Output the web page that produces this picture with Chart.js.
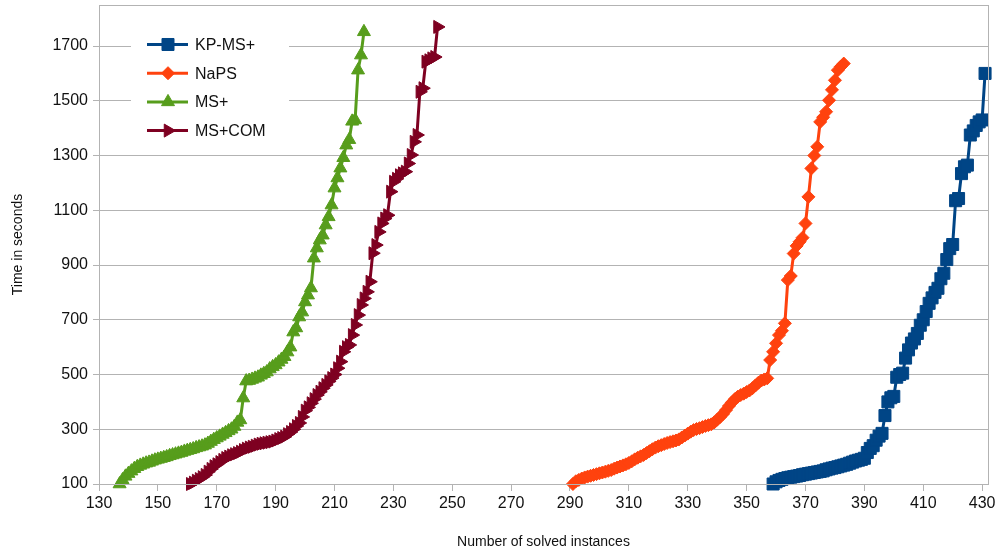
<!DOCTYPE html>
<html>
<head>
<meta charset="utf-8">
<script src="https://cdn.jsdelivr.net/npm/chart.js@4.4.1/dist/chart.umd.min.js"></script>
<style>
  body { margin: 0; background: #fff; }
  #wrap { width: 1001px; height: 557px; }
</style>
</head>
<body>
<div id="wrap"><canvas id="myChart" width="1001" height="557"></canvas></div>
<script>
// solved instances (x) and time in seconds (y)
const kpX = [359,360,361,362,363,364,365,366,367,368,369,370,371,372,373,374,375,376,377,378,
  379,380,381,382,383,384,385,386,387,388,389,390,391,392,393,394,395,396,397,398,
  399,400,401,402,403,404,405,406,407,408,409,410,411,412,413,414,415,416,417,418,
  419,420,421,422,423,424,425,426,427,428,429,430,431];
const kpY = [100,108,113,117,120,123,125,127,129,131,134,136,138,140,142,144,146,148,152,155,
  158,160,163,166,169,172,176,180,184,187,190,194,215,230,240,260,275,285,350,400,
  415,420,490,500,505,560,590,615,630,650,680,700,730,760,780,800,815,850,870,920,
  960,975,1135,1143,1234,1259,1265,1375,1390,1410,1423,1430,1600];

const napsX = [291,292,293,294,295,296,297,298,299,300,301,302,303,304,305,306,307,308,309,310,
  311,312,313,314,315,316,317,318,319,320,321,322,323,324,325,326,327,328,329,330,
  331,332,333,334,335,336,337,338,339,340,341,342,343,344,345,346,347,348,349,350,
  351,352,353,354,355,356,357,358,359,360,361,362,363,364,365,366,367,368,369,370,
  371,372,373,374,375,376,377,378,379,380,381,382,383];
const napsY = [100,110,115,120,124,127,130,133,136,139,142,145,148,151,156,160,164,168,172,177,
  183,190,196,201,206,213,220,227,233,238,242,246,250,253,256,259,263,270,277,284,
  291,297,301,304,308,312,315,318,325,335,345,356,370,385,398,410,419,425,430,436,
  442,450,460,470,478,482,486,553,583,614,644,660,687,845,860,942,970,985,1000,1052,
  1149,1253,1300,1332,1423,1440,1460,1502,1540,1575,1612,1625,1636];

const msX = [137,138,139,140,141,142,143,144,145,146,147,148,149,150,151,152,153,154,155,156,
  157,158,159,160,161,162,163,164,165,166,167,168,169,170,171,172,173,174,175,176,
  177,178,179,180,181,182,183,184,185,186,187,188,189,190,191,192,193,194,195,196,
  197,198,199,200,201,202,203,204,205,206,207,208,209,210,211,212,213,214,215,216,
  217,218,219,220];
const msY = [100,115,128,138,147,156,163,168,172,176,179,183,187,190,193,196,199,203,206,209,
  212,215,219,222,225,228,232,235,238,242,248,255,262,268,274,281,287,294,300,310,
  325,334,414,476,478,482,486,490,497,503,509,520,528,535,545,555,565,582,600,655,
  670,710,728,765,790,816,925,962,991,1009,1046,1076,1119,1181,1218,1254,1292,1338,1358,1425,
  1430,1612,1667,1752];

const comX = [161,162,163,164,165,166,167,168,169,170,171,172,173,174,175,176,177,178,179,180,
  181,182,183,184,185,186,187,188,189,190,191,192,193,194,195,196,197,198,199,200,
  201,202,203,204,205,206,207,208,209,210,211,212,213,214,215,216,217,218,219,220,
  221,222,223,224,225,226,227,228,229,230,231,232,233,234,235,236,237,238,239,240,
  241,242,243,244,245];
const comY = [100,105,112,118,125,133,145,155,165,172,180,188,195,200,205,209,213,218,224,229,
  233,236,240,244,247,249,251,253,255,259,264,268,273,282,290,300,312,323,345,368,
  380,395,410,425,437,450,462,475,487,500,523,547,583,600,608,644,681,717,754,778,
  802,839,943,973,1021,1052,1070,1082,1168,1204,1215,1228,1235,1241,1271,1302,1350,1375,1533,1546,
  1643,1648,1655,1660,1770];

const seriesNames = ['KP-MS+', 'NaPS', 'MS+', 'MS+COM'];
const xTicks = [130,150,170,190,210,230,250,270,290,310,330,350,370,390,410,430];
const yTicks = [100,300,500,700,900,1100,1300,1500,1700];

function pts(xs, ys) {
    return xs.map(function(x, i) { return {x: x, y: ys[i]}; });
}

function makeSet(name, xs, ys, color, style, radius, rot) {
    return {
        label: name,
        data: pts(xs, ys),
        showLine: true,
        borderColor: color,
        backgroundColor: color,
        borderWidth: 3,
        tension: 0,
        pointStyle: style,
        pointRadius: radius,
        pointHoverRadius: radius,
        pointRotation: rot,
        pointBorderWidth: 1,
        clip: false
    };
}

// legend drawn inside the plot: white box, line with marker, name
const boxLegend = {
    id: 'boxLegend',
    afterDraw: function(chart) {
        const ctx = chart.ctx;
        ctx.save();
        ctx.fillStyle = '#ffffff';
        ctx.fillRect(131, 28, 158, 118);
        chart.data.datasets.forEach(function(ds, i) {
            const y = 44.5 + i * 28.7;
            ctx.strokeStyle = ds.borderColor;
            ctx.fillStyle = ds.backgroundColor;
            ctx.lineWidth = 3;
            ctx.beginPath();
            ctx.moveTo(147, y);
            ctx.lineTo(188, y);
            ctx.stroke();
            ctx.lineWidth = 1;
            Chart.helpers.drawPoint(ctx, {
                pointStyle: ds.pointStyle,
                radius: ds.pointRadius,
                rotation: ds.pointRotation,
                borderWidth: 1
            }, 168, y);
            ctx.fillStyle = '#111';
            ctx.font = '16px "Liberation Sans", Arial, sans-serif';
            ctx.textBaseline = 'middle';
            ctx.fillText(ds.label, 195, y + 1);
        });
        // frame round the plot area
        const a = chart.chartArea;
        ctx.strokeStyle = '#b3b3b3';
        ctx.lineWidth = 1;
        ctx.strokeRect(a.left + 0.5, a.top + 0.5, a.right - a.left, a.bottom - a.top);
        ctx.restore();
    }
};

var ctx = document.getElementById('myChart').getContext('2d');

var myChart = new Chart(ctx, {
    type: 'scatter',
    data: {
        datasets: [
            makeSet(seriesNames[0], kpX, kpY, '#004586', 'rect', 8.5, 0),
            makeSet(seriesNames[1], napsX, napsY, '#ff420e', 'rectRot', 6.5, 0),
            makeSet(seriesNames[2], msX, msY, '#579d1c', 'triangle', 7.5, 0),
            makeSet(seriesNames[3], comX, comY, '#7e0021', 'triangle', 7.5, 90)
        ]
    },
    options: {
        responsive: false,
        animation: false,
        devicePixelRatio: 1,
        layout: { autoPadding: false, padding: { left: 0, top: 5, right: 13, bottom: 0 } },
        plugins: {
            legend: { display: false },
            tooltip: { enabled: false }
        },
        scales: {
            x: {
                type: 'linear',
                min: 130,
                max: 432,
                afterBuildTicks: function(scale) {
                    scale.ticks = xTicks.map(function(v) { return {value: v}; });
                },
                afterFit: function(scale) {
                    scale.height = 73;
                    scale.paddingLeft = 0;
                    scale.paddingRight = 0;
                },
                grid: {
                    drawOnChartArea: false,
                    color: '#b3b3b3',
                    tickLength: 7
                },
                border: { color: '#b3b3b3' },
                ticks: {
                    color: '#111',
                    padding: 3,
                    maxRotation: 0,
                    autoSkip: false,
                    font: { family: '"Liberation Sans", Arial, sans-serif', size: 16 }
                },
                title: {
                    display: true,
                    text: 'Number of solved instances',
                    color: '#111',
                    padding: { top: 0, bottom: 6 },
                    font: { family: '"Liberation Sans", Arial, sans-serif', size: 14 }
                }
            },
            y: {
                type: 'linear',
                min: 100,
                max: 1850,
                afterBuildTicks: function(scale) {
                    scale.ticks = yTicks.map(function(v) { return {value: v}; });
                },
                afterFit: function(scale) {
                    scale.width = 99;
                    // labels would otherwise push the plot top down
                    scale.paddingTop = 0;
                    scale.paddingBottom = 0;
                },
                grid: {
                    color: '#b3b3b3',
                    tickLength: 6
                },
                border: { color: '#b3b3b3' },
                ticks: {
                    color: '#111',
                    padding: 5,
                    autoSkip: false,
                    callback: function(value) { return String(value); },
                    font: { family: '"Liberation Sans", Arial, sans-serif', size: 16 }
                },
                title: {
                    display: true,
                    text: 'Time in seconds',
                    color: '#111',
                    padding: { top: 10, bottom: 0 },
                    font: { family: '"Liberation Sans", Arial, sans-serif', size: 14 }
                }
            }
        }
    },
    plugins: [boxLegend]
});
</script>
</body>
</html>
